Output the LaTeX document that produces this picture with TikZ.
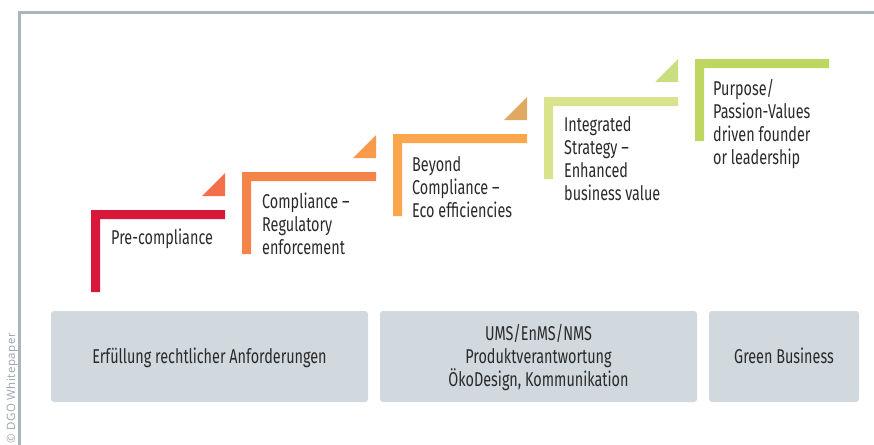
\documentclass[tikz,border=0pt]{standalone}
\usepackage{fontspec}
\setmainfont{Fira Sans}[FakeStretch=0.72]
\newfontfamily\creditfont{Open Sans}[LetterSpace=4]

\definecolor{framegray}{HTML}{A9B6BE}
\definecolor{boxgray}{HTML}{D1D9DF}
\definecolor{txt}{HTML}{2A2A2A}
\definecolor{creditgray}{HTML}{9AA4AA}
\definecolor{stepA}{HTML}{D7183A}
\definecolor{stepB}{HTML}{F5844A}
\definecolor{stepC}{HTML}{F9A64D}
\definecolor{stepD}{HTML}{D8E38C}
\definecolor{stepE}{HTML}{BED760}
\definecolor{triA}{HTML}{F2714A}
\definecolor{triB}{HTML}{F89A4A}
\definecolor{triC}{HTML}{E0A962}
\definecolor{triD}{HTML}{C9DE80}

\tikzset{
  frameline/.style={draw=framegray, line width=3pt},
  levelbox/.style={fill=boxgray, rounded corners=3pt},
  steptext/.style={align=left, inner sep=0pt, text=txt,
    font=\fontsize{20}{23}\selectfont},
  boxtext/.style={align=center, inner sep=0pt, text=txt,
    font=\fontsize{20}{23.3}\selectfont},
  credit/.style={inner sep=0pt, text=creditgray,
    font=\creditfont\fontsize{11.5}{13}\selectfont},
}

% L-shaped step bracket: outer corner (#1,#2), colour #3
\newcommand{\stepbracket}[3]{%
  \fill[#3] (#1,#2) -- ++(134,0) -- ++(0,9) -- ++(-125,0) -- ++(0,73) -- ++(-9,0) -- cycle;}

\begin{document}
\begin{tikzpicture}[x=1pt,y=-1pt]
\useasboundingbox (0,0) rectangle (874,444);

% outer frame
\draw[frameline] (19,446) -- (19,12.5) -- (876,12.5);

% credit line, reading upwards
\node[credit, rotate=90, anchor=base east] (credit) at (15,333) {© DGO Whitepaper};

% staircase
\stepbracket{91}{210}{stepA}
\stepbracket{242}{172}{stepB}
\stepbracket{393}{134}{stepC}
\stepbracket{544}{97}{stepD}
\stepbracket{695}{59}{stepE}

\fill[triA] (225,196) -- (225,173) -- (202,196) -- cycle;
\fill[triB] (376,158) -- (376,135) -- (353,158) -- cycle;
\fill[triC] (527,120) -- (527,97) -- (504,120) -- cycle;
\fill[triD] (678,82) -- (678,59) -- (655,82) -- cycle;

% step labels (anchored on the baseline of their last line)
\node[steptext, anchor=base west] (s1) at (111,244) {Pre-compliance};
\node[steptext, anchor=base west] (s2) at (262,254.5) {Compliance --\\Regulatory\\enforcement};
\node[steptext, anchor=base west] (s3) at (412,217) {Beyond\\Compliance --\\Eco efficiencies};
\node[steptext, anchor=base west] (s4) at (564,200) {Integrated\\Strategy --\\Enhanced\\business value};
\node[steptext, anchor=base west] (s5) at (713,164) {Purpose/\\Passion-Values\\driven founder\\or leadership};

% bottom boxes
\fill[levelbox] (51,311) rectangle (368,402);
\fill[levelbox] (380,311) rectangle (697,402);
\fill[levelbox] (709,311) rectangle (859,402);

\node[boxtext, anchor=base] (b1) at (209.5,363) {Erfüllung rechtlicher Anforderungen};
\node[boxtext, anchor=base] (b2) at (538.5,386.6) {UMS/EnMS/NMS\\Produktverantwortung\\ÖkoDesign, Kommunikation};
\node[boxtext, anchor=base] (b3) at (784,363) {Green Business};
\end{tikzpicture}
\end{document}
